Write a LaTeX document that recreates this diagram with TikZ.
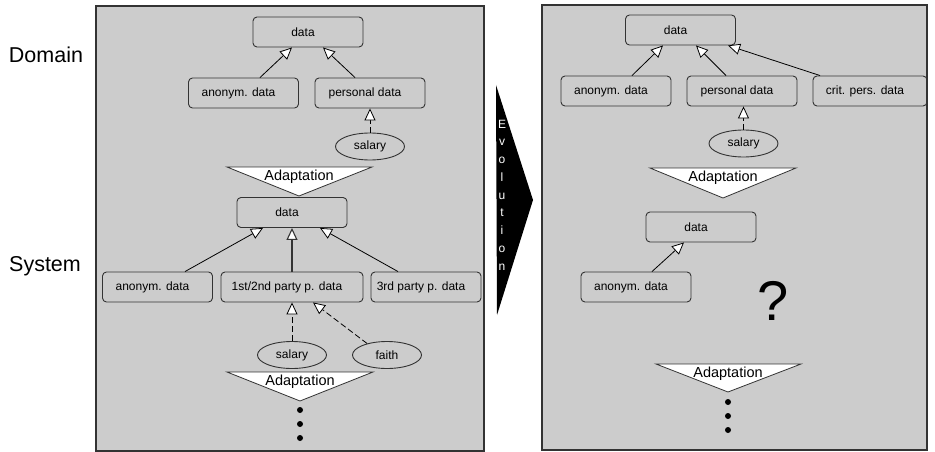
\documentclass[tikz,border=0pt]{standalone}
\usepackage{fontspec}
\setmainfont{Liberation Sans}
\usetikzlibrary{arrows.meta,shapes.geometric}
\definecolor{panelgray}{HTML}{CCCCCC}
\definecolor{edgegray}{HTML}{333333}
\begin{document}
\begin{tikzpicture}[x=1pt,y=-1pt,
 box/.style={draw=edgegray,line width=0.9pt,rounded corners=4pt,minimum width=110pt,minimum height=30pt,inner sep=0pt,font=\fontsize{12}{14}\selectfont,execute at begin node=\hspace*{-10pt}},
 ell/.style={ellipse,draw=edgegray,line width=0.9pt,minimum width=69pt,minimum height=27pt,inner sep=0pt,font=\fontsize{12}{14}\selectfont},
 gen/.style={draw=black,line width=0.8pt,-{Triangle[fill=white,length=12pt,width=11pt]}},
 gend/.style={gen,dash pattern=on 6pt off 3pt},
 panel/.style={fill=panelgray,draw=edgegray,line width=1.5pt},
 adapt/.style={fill=white,draw=edgegray,line width=0.8pt},
 adtext/.style={font=\fontsize{14.5}{16}\selectfont,inner sep=0pt},
 side/.style={font=\fontsize{21.5}{24}\selectfont},
 dot/.style={fill=black}]
\useasboundingbox (0,0) rectangle (935,452);
% panels
\draw[panel] (96,6) rectangle (484,451);
\draw[panel] (542,5) rectangle (927,450);
% side labels
\node[side] (dom) at (46,55) {Domain};
\node[side] (sys) at (45,266) {System};
% evolution arrow
\fill[black] (496,85) -- (533,200) -- (497,315) -- cycle;
\node[white,font=\fontsize{12}{17.75}\selectfont,align=center,inner sep=0pt] (evo) at (502,195) {E\\v\\o\\l\\u\\t\\i\\o\\n};
% ---------- left panel, domain ----------
\node[box] (ld) at (308,32) {data};
\node[box] (lan) at (243.5,93) {anonym. data};
\node[box] (lpd) at (370,93) {personal data};
\node[ell] (lsal) at (370,146.5) {salary};
\draw[gen] ([xshift=16.5pt]lan.north) -- ([xshift=-16pt]ld.south);
\draw[gen] ([xshift=-15pt]lpd.north) -- ([xshift=15pt]ld.south);
\draw[gend] (lsal.north) -- (lpd.south);
\draw[adapt] (227,167) -- (372,167) -- (299,196) -- cycle;
\node[adtext] (la1) at (299,177) {Adaptation};
% ---------- left panel, system ----------
\node[box] (sd) at (292,212.5) {data};
\node[box] (san) at (157.5,287) {anonym. data};
\node[box,minimum width=142pt] (s12) at (292,287) {1st/2nd party p. data};
\node[box] (s3) at (426,287) {3rd party p. data};
\node[ell] (ssal) at (292,355) {salary};
\node[ell] (sfa) at (387,355) {faith};
\draw[gen] ([xshift=27.5pt]san.north) -- ([xshift=-29pt]sd.south);
\draw[gen,line width=1.1pt,draw=edgegray] (s12.north) -- (sd.south);
\draw[gen] ([xshift=-28pt]s3.north) -- ([xshift=28pt]sd.south);
\draw[gend] (ssal.north) -- (s12.south);
\draw[gend] (sfa.150) -- ([xshift=21pt]s12.south);
\draw[adapt] (227,372) -- (373,372) -- (300,401) -- cycle;
\node[adtext] (la2) at (300,382) {Adaptation};
\fill[dot] (300,410) circle (3pt) (300,424) circle (3pt) (300,438) circle (3pt);
% ---------- right panel, domain ----------
\node[box] (rd) at (680.5,30) {data};
\node[box] (ran) at (616,91) {anonym. data};
\node[box] (rpd) at (742,91) {personal data};
\node[box,minimum width=114pt] (rcp) at (870,91) {crit. pers. data};
\node[ell] (rsal) at (743.5,143.5) {salary};
\draw[gen] ([xshift=16pt]ran.north) -- ([xshift=-17.5pt]rd.south);
\draw[gen] ([xshift=-16pt]rpd.north) -- ([xshift=15.5pt]rd.south);
\draw[gen] ([xshift=-50pt]rcp.north) -- ([xshift=47.5pt]rd.south);
\draw[gend] (rsal.north) -- (rpd.south -| rsal.north);
\draw[adapt] (650,168) -- (796,168) -- (723,198) -- cycle;
\node[adtext] (ra1) at (723,178) {Adaptation};
% ---------- right panel, system ----------
\node[box] (rsd) at (701,227) {data};
\node[box] (rsan) at (636,287) {anonym. data};
\draw[gen] ([xshift=16pt]rsan.north) -- ([xshift=-17pt]rsd.south);
\node[font=\fontsize{56}{60}\selectfont,inner sep=0pt] (q) at (773,301) {?};
\draw[adapt] (656,364) -- (801,364) -- (728,392) -- cycle;
\node[adtext] (ra2) at (728,374) {Adaptation};
\fill[dot] (728,402) circle (3pt) (728,416) circle (3pt) (728,430) circle (3pt);
\end{tikzpicture}
\end{document}
